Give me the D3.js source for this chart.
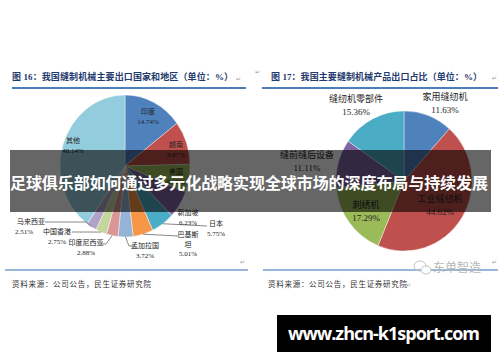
<!DOCTYPE html>
<html>
<head>
<meta charset="utf-8">
<script src="https://cdn.jsdelivr.net/npm/d3@7"></script>
<style>
  body { margin: 0; background: #fff; }
  svg { display: block; }
</style>
</head>
<body>
<svg width="500" height="362"></svg>
<script>
// figure 16: export destinations (%)
const leftNames = ["印度", "越南", "美国", "新加坡", "日本", "巴基斯坦", "孟加拉国", "印度尼西亚", "中国香港", "马来西亚", "其他"]
const leftValues = [14.74, 9.87, 6.40, 6.23, 5.75, 5.01, 3.72, 2.88, 2.75, 2.51, 40.14]

// figure 17: product share of exports (%)
const rightNames = ["家用缝纫机", "工业缝纫机", "刺绣机", "缝前缝后设备", "缝纫机零部件"]
const rightValues = [11.63, 44.62, 17.29, 11.11, 15.36]

const leftTitle = "图 16：我国缝制机械主要出口国家和地区（单位：%）"
const rightTitle = "图 17：我国主要缝制机械产品出口占比（单位：%）"
const sourceText = "资料来源：公司公告，民生证券研究院"
const bannerText = "足球俱乐部如何通过多元化战略实现全球市场的深度布局与持续发展"
const siteText = "www.zhcn-k1sport.com"

const office = ["#4f81bd", "#c0504d", "#9bbb59", "#8064a2", "#4bacc6", "#f79646",
  "#95b3d7", "#d99694", "#c3d69b", "#b3a2c7", "#93cddd"]

const svg = d3.select('svg')
const cjk = '"Liberation Serif", "Noto Sans CJK SC", serif'

// label layout (text position per slice, optional leader end)
const leftLayout = {
  "印度": { x: 148, y: 114, lines: ["印度", "14.74%"] },
  "越南": { x: 176, y: 147, lines: ["越南", "9.87%"] },
  "美国": { x: 176, y: 174, lines: ["美国", "6.40%"] },
  "其他": { x: 73, y: 143, lines: ["其他", "40.14%"] },
  "新加坡": { x: 188, y: 215, lines: ["新加坡", "6.23%"] },
  "日本": { x: 216, y: 226, lines: ["日本", "5.75%"], leader: [[207, 226]] },
  "巴基斯坦": { x: 188, y: 237, lines: ["巴基斯", "坦", "5.01%"], leader: [[178, 236]] },
  "孟加拉国": { x: 145, y: 248, lines: ["孟加拉国", "3.72%"], leader: [[129, 246], [133, 246]] },
  "印度尼西亚": { x: 86, y: 245, lines: ["印度尼西亚", "2.88%"], leader: [[106, 244], [101, 244]] },
  "中国香港": { x: 57, y: 234, lines: ["中国香港", "2.75%"], leader: [[72, 232]] },
  "马来西亚": { x: 31, y: 224, lines: ["马来西亚"], leader: [[86, 222], [45, 222]] }
}
const leftExtra = [{ x: 24, y: 234, text: "2.51%" }]

const rightLayout = {
  "家用缝纫机": { x: 445, y: 100, lines: ["家用缝纫机", "11.63%"] },
  "工业缝纫机": { x: 440, y: 202, lines: ["工业缝纫机", "44.62%"] },
  "刺绣机": { x: 366, y: 208, lines: ["刺绣机", "17.29%"] },
  "缝前缝后设备": { x: 307, y: 158, lines: ["缝前缝后设备", "11.11%"] },
  "缝纫机零部件": { x: 356, y: 102, lines: ["缝纫机零部件", "15.36%"] }
}

function drawPie(names, values, cx, cy, rx, ry, layout, fontSize, lineH) {
  const k = ry / rx
  const pie = d3.pie().sort(null).value(d => d.v)
  const arcs = pie(names.map((n, i) => ({ n: n, v: values[i] })))
  const color = d3.scaleOrdinal().domain(names).range(office)
  const arc = d3.arc().innerRadius(0).outerRadius(rx)
  const rim = d3.arc().innerRadius(rx).outerRadius(rx)

  const g = svg.append('g').attr('transform', `translate(${cx},${cy}) scale(1,${k})`)
  g.selectAll('path').data(arcs).enter().append('path')
    .attr('d', arc)
    .attr('fill', d => color(d.data.n))
    .attr('stroke', '#fff')
    .attr('stroke-width', 0.4)

  // leaders
  arcs.forEach(d => {
    const lay = layout[d.data.n]
    if (!lay || !lay.leader) return
    const c = rim.centroid(d)
    const pts = [[cx + c[0], cy + c[1] * k]].concat(lay.leader)
    svg.append('path')
      .attr('d', d3.line()(pts))
      .attr('fill', 'none')
      .attr('stroke', '#555')
      .attr('stroke-width', 0.7)
  })

  // labels
  arcs.forEach(d => {
    const lay = layout[d.data.n]
    if (!lay) return
    const t = svg.append('text')
      .attr('x', lay.x).attr('y', lay.y)
      .attr('text-anchor', 'middle')
      .attr('font-family', cjk)
      .attr('font-size', fontSize)
      .attr('fill', '#222')
    lay.lines.forEach((s, i) => {
      t.append('tspan').attr('x', lay.x).attr('y', lay.y + i * lineH).text(s)
    })
  })
}

// headers
function header(x, y, text, len, x1, x2) {
  svg.append('text')
    .attr('x', x).attr('y', y)
    .attr('font-family', cjk)
    .attr('font-weight', 'bold')
    .attr('font-size', 9)
    .attr('fill', '#1f3a6e')
    .attr('textLength', len)
    .attr('lengthAdjust', 'spacing')
    .text(text)
  svg.append('line')
    .attr('x1', x1).attr('x2', x2).attr('y1', 88).attr('y2', 88)
    .attr('stroke', '#4a7ebb').attr('stroke-width', 2)
}
header(12, 80, leftTitle, 221, 12, 246)
header(271, 80, rightTitle, 211, 262, 498)

// tiny paragraph marks
const marks = [[236, 81], [255, 74], [492, 80], [240, 264], [492, 264], [406, 287]]
svg.selectAll('text.mark').data(marks).enter().append('text')
  .attr('class', 'mark')
  .attr('x', d => d[0]).attr('y', d => d[1])
  .attr('font-size', 6).attr('fill', '#999')
  .attr('font-family', 'DejaVu Sans')
  .text('↵')

drawPie(leftNames, leftValues, 125, 166, 65, 71, leftLayout, 7, 9.5)
svg.selectAll('text.extra').data(leftExtra).enter().append('text')
  .attr('class', 'extra')
  .attr('x', d => d.x).attr('y', d => d.y)
  .attr('text-anchor', 'middle')
  .attr('font-family', cjk).attr('font-size', 7).attr('fill', '#222')
  .text(d => d.text)

drawPie(rightNames, rightValues, 404, 181, 68, 70, rightLayout, 9, 13)

// footers
;[[5, 248], [263, 498]].forEach(s => {
  svg.append('line')
    .attr('x1', s[0]).attr('x2', s[1]).attr('y1', 270).attr('y2', 270)
    .attr('stroke', '#2e6db4').attr('stroke-width', 1)
})
;[12, 268].forEach(x => {
  svg.append('text')
    .attr('x', x).attr('y', 287)
    .attr('font-family', cjk).attr('font-size', 7.5)
    .attr('fill', '#333')
    .attr('textLength', 139)
    .text(sourceText)
})

// watermark
const wm = svg.append('g').attr('fill', 'none').attr('stroke', '#c4c4c4').attr('stroke-width', 1)
wm.append('ellipse').attr('cx', 420).attr('cy', 266).attr('rx', 6).attr('ry', 5)
wm.append('ellipse').attr('cx', 426).attr('cy', 270).attr('rx', 5).attr('ry', 4).attr('fill', '#fff')
svg.append('text')
  .attr('x', 433).attr('y', 272)
  .attr('font-family', '"Noto Sans CJK SC", sans-serif')
  .attr('font-size', 12).attr('fill', '#b8b8b8')
  .text('东单智造')

// banner overlay
svg.append('rect')
  .attr('x', 10).attr('y', 150).attr('width', 481).attr('height', 62)
  .attr('fill', 'rgba(0,0,0,0.6)')
svg.append('text')
  .attr('x', 10).attr('y', 189)
  .attr('font-family', '"Noto Sans CJK SC", sans-serif')
  .attr('font-weight', 'bold')
  .attr('font-size', 16)
  .attr('fill', '#fff')
  .attr('textLength', 478)
  .text(bannerText)

// site box
svg.append('rect')
  .attr('x', 277).attr('y', 315).attr('width', 214).attr('height', 37)
  .attr('fill', '#000')
svg.append('text')
  .attr('x', 384).attr('y', 340)
  .attr('text-anchor', 'middle')
  .attr('font-family', '"Open Sans", "DejaVu Sans", sans-serif')
  .attr('font-weight', 'bold')
  .attr('font-size', 18)
  .attr('fill', '#fff')
  .attr('textLength', 192)
  .text(siteText)
</script>
</body>
</html>
